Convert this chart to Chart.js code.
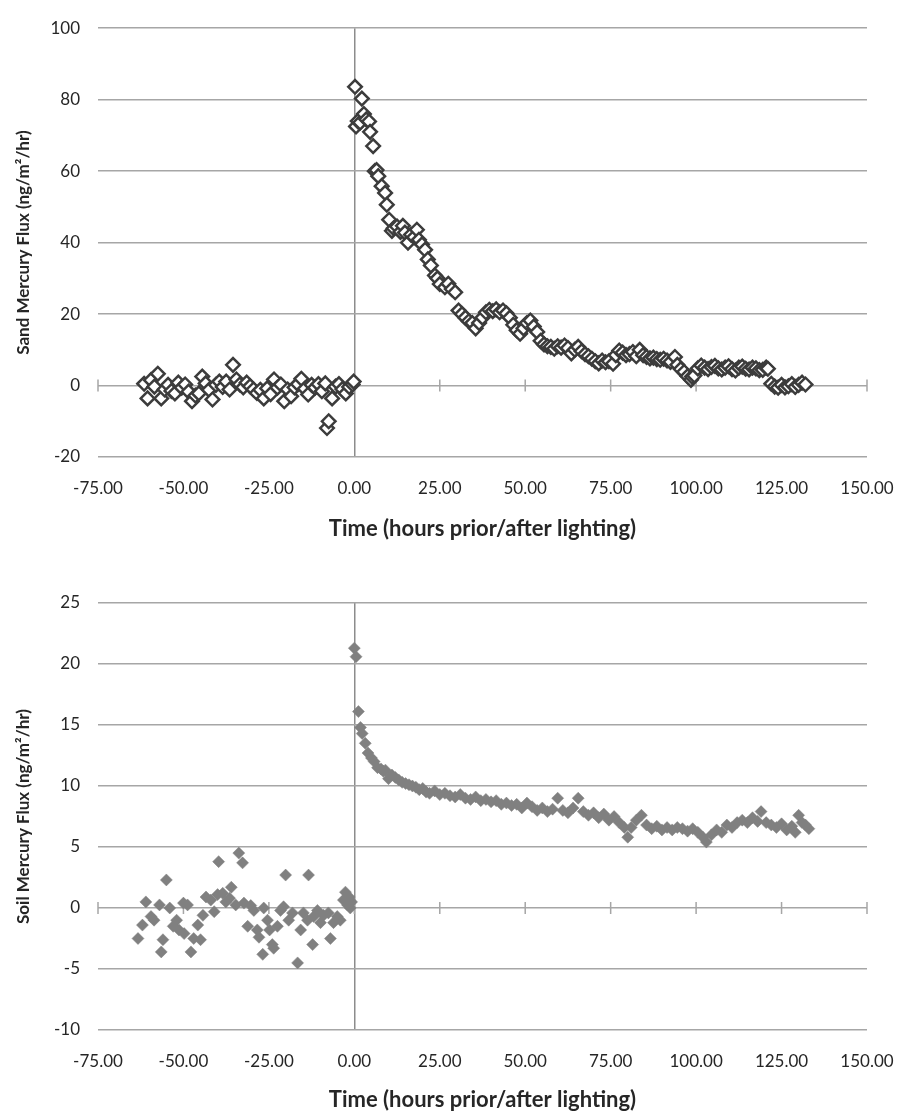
<!DOCTYPE html>
<html>
<head>
<meta charset="utf-8">
<script src="https://cdn.jsdelivr.net/npm/chart.js@4.4.1/dist/chart.umd.min.js"></script>
<style>
  body { margin: 0; background: #fff; }
  canvas { display: block; }
</style>
</head>
<body>
<canvas id="sandChart" width="900" height="545"></canvas>
<canvas id="soilChart" width="900" height="573"></canvas>
<script>
// sand: hours before lighting [time, flux]
const sandBefore = [
  [-61.5, 0.5], [-60.5, -3.6], [-59.5, 1.5], [-58.5, -0.3], [-57.5, 3.3], [-56.5, -3.6],
  [-55.5, -1.1], [-54.5, 0.2], [-53.5, -1.5], [-52.5, -2.2], [-51.5, 0.8], [-50.5, -0.6],
  [-49.5, 0.3], [-48.5, -1.7], [-47.5, -4.4], [-46.5, -2.8], [-45.5, -2.2], [-44.5, 2.5],
  [-43.5, 0.6], [-42.5, -1.2], [-41.5, -3.9], [-40.5, 0.2], [-39.5, 1.1], [-38.5, -0.4],
  [-37.5, 1.1], [-36.5, -1.1], [-35.5, 5.8], [-34.5, 1.7], [-33.5, 0.3], [-32.5, -0.5],
  [-31.5, 0.8], [-30.5, -0.2], [-29.5, -1.1], [-28.5, -2.1], [-27.5, -1.2], [-26.5, -3.6],
  [-25.5, -0.8], [-24.5, -2.4], [-23.5, 1.7], [-22.5, -0.6], [-21.5, 0.3], [-20.5, -4.4],
  [-19.5, -1.1], [-18.5, -3.0], [-17.5, -0.5], [-16.5, 0.4], [-15.5, 1.9], [-14.5, -0.9],
  [-13.5, -2.5], [-12.5, 0.2], [-11.5, -0.6], [-10.5, 0.4], [-9.5, -1.6], [-8.5, 0.6],
  [-8.0, -11.9], [-7.5, -10.0], [-6.5, -3.6], [-5.5, -0.3], [-4.5, 0.4], [-3.5, -1.0],
  [-2.5, -2.2], [-1.5, -0.4], [-0.5, 0.3], [-0.2, 1.1]
];

// sand: hours after lighting
const sandAfter = [
  [0.2, 83.6], [0.5, 72.5], [1.0, 74.0], [1.7, 73.6], [2.2, 80.3], [2.8, 76.0], [3.5, 74.5],
  [4.3, 73.9], [4.6, 71.0], [5.5, 67.0], [6.0, 60.0], [6.5, 60.3], [7.0, 58.6], [8.0, 55.8],
  [9.0, 53.9], [9.5, 50.6], [10.2, 46.4], [11.0, 43.3], [11.5, 44.0], [12.5, 44.5], [13.5, 43.0],
  [14.2, 44.7], [14.8, 42.8], [15.7, 40.0], [16.6, 42.2], [17.5, 41.5], [18.3, 43.6], [18.9, 40.8],
  [19.8, 39.5], [20.7, 38.0], [21.5, 35.3], [22.4, 33.6], [23.6, 30.8], [24.3, 30.0], [25.0, 28.4],
  [26.5, 27.5], [27.5, 28.5], [28.5, 27.0], [29.5, 26.1], [30.5, 21.0], [31.5, 20.0], [32.5, 19.0],
  [33.5, 18.0], [34.5, 17.5], [35.5, 16.0], [36.5, 17.5], [37.5, 19.0], [38.5, 20.5], [39.5, 21.2],
  [40.5, 20.8], [41.5, 21.3], [42.5, 20.5], [43.5, 21.0], [44.5, 20.2], [45.5, 19.0], [46.5, 17.0],
  [47.5, 15.5], [48.5, 14.5], [49.5, 16.0], [50.5, 17.5], [51.5, 18.2], [52.5, 16.5], [53.5, 15.0],
  [54.5, 12.5], [55.5, 11.5], [56.5, 11.0], [57.5, 10.8], [58.5, 10.3], [59.5, 11.0], [60.5, 10.6],
  [61.5, 11.2], [62.5, 10.5], [63.5, 9.0], [64.5, 10.0], [65.5, 10.8], [66.5, 9.6], [67.5, 8.8],
  [68.5, 8.2], [69.5, 7.5], [70.5, 6.8], [71.5, 6.2], [72.5, 7.0], [73.5, 6.5], [74.5, 6.8],
  [75.7, 6.1], [76.5, 8.5], [77.5, 9.8], [78.5, 9.2], [79.5, 8.5], [80.5, 8.8], [81.5, 9.4],
  [82.5, 8.2], [83.5, 10.0], [84.5, 8.5], [85.5, 8.0], [86.5, 7.6], [87.5, 7.8], [88.5, 7.4],
  [89.5, 7.2], [90.5, 7.5], [91.5, 7.0], [92.5, 6.6], [93.8, 8.0], [94.5, 5.8], [95.5, 4.6],
  [96.5, 3.8], [97.5, 2.6], [98.5, 1.6], [98.8, 2.5], [99.5, 2.8], [100.5, 4.8], [101.5, 5.6],
  [102.5, 5.0], [103.5, 4.6], [104.5, 5.2], [105.5, 5.5], [106.5, 4.8], [107.5, 4.5], [108.5, 5.0],
  [109.5, 5.4], [110.5, 4.6], [111.5, 4.2], [112.5, 5.0], [113.5, 5.3], [114.5, 4.7], [115.5, 4.5],
  [116.5, 5.0], [117.5, 4.8], [118.5, 4.3], [119.5, 4.4], [120.5, 5.0], [121.0, 4.7], [122.0, 0.5],
  [123.0, -0.3], [124.0, -0.6], [125.0, 0.2], [126.0, -0.5], [127.0, -0.2], [128.0, 0.4],
  [129.0, -0.4], [130.0, 0.2], [131.0, 0.8], [132.0, 0.3]
];

// soil: hours before lighting
const soilBefore = [
  [-63.3, -2.5], [-62.0, -1.4], [-61.0, 0.5], [-59.5, -0.7], [-58.6, -1.0], [-57.0, 0.25],
  [-56.5, -3.6], [-56.0, -2.6], [-55.0, 2.3], [-54.0, 0.0], [-53.0, -1.5], [-52.0, -1.0],
  [-51.3, -1.8], [-50.0, 0.4], [-49.8, -2.1], [-48.8, 0.25], [-47.8, -3.6], [-47.0, -2.5],
  [-45.8, -1.4], [-45.0, -2.6], [-44.3, -0.6], [-43.4, 0.9], [-42.0, 0.65], [-41.0, -0.3],
  [-40.0, 1.1], [-39.7, 3.8], [-38.5, 1.2], [-37.6, 0.5], [-36.5, 0.8], [-36.0, 1.7],
  [-34.7, 0.25], [-33.8, 4.5], [-32.7, 3.7], [-32.3, 0.4], [-31.2, -1.5], [-30.3, 0.2],
  [-29.4, -0.2], [-28.4, -1.8], [-27.9, -2.4], [-26.8, -3.8], [-26.5, 0.0], [-25.4, -1.0],
  [-24.8, -1.8], [-24.0, -3.0], [-23.6, -3.3], [-22.5, -1.5], [-21.6, -0.2], [-20.7, 0.1],
  [-20.1, 2.7], [-19.2, -1.0], [-18.1, -0.4], [-16.6, -4.5], [-15.7, -1.8], [-14.9, -0.4],
  [-13.7, -1.0], [-13.4, 2.7], [-12.2, -3.0], [-11.9, -0.7], [-10.8, -0.2], [-9.9, -1.2],
  [-9.0, -0.6], [-7.6, -0.4], [-7.0, -2.5], [-6.1, -1.2], [-5.0, -0.7], [-4.1, -1.0],
  [-3.2, 0.65], [-2.6, 1.3], [-2.0, 0.25], [-1.5, 0.9], [-1.2, 0.0], [-0.8, 0.5]
];

// soil: hours after lighting
const soilAfter = [
  [0.0, 21.3], [0.5, 20.6], [1.2, 16.1], [1.8, 14.8], [2.3, 14.3], [3.2, 13.5], [4.0, 12.7],
  [5.0, 12.3], [5.8, 12.0], [6.8, 11.5], [7.8, 11.4], [8.5, 11.2], [9.1, 11.3], [10.0, 10.6],
  [11.0, 10.9], [12.0, 10.7], [13.0, 10.5], [14.0, 10.3], [15.0, 10.2], [16.0, 10.1], [17.0, 10.0],
  [18.0, 9.9], [19.0, 9.7], [20.0, 9.8], [21.0, 9.5], [22.0, 9.4], [23.5, 9.6], [25.0, 9.3],
  [26.5, 9.4], [28.0, 9.2], [29.5, 9.1], [31.0, 9.3], [32.5, 9.0], [34.0, 8.9], [35.5, 9.1],
  [37.0, 8.8], [38.5, 8.9], [40.0, 8.7], [41.5, 8.8], [43.0, 8.5], [44.5, 8.6], [46.0, 8.4],
  [47.5, 8.5], [49.0, 8.2], [50.5, 8.6], [52.0, 8.3], [53.5, 8.0], [55.0, 8.2], [56.5, 7.9],
  [58.0, 8.1], [59.5, 9.0], [61.0, 8.0], [62.5, 7.8], [64.0, 8.2], [65.5, 9.0], [67.0, 7.9],
  [68.5, 7.6], [70.0, 7.8], [71.5, 7.4], [73.0, 7.7], [74.5, 7.2], [76.0, 7.5], [77.5, 7.0],
  [79.0, 6.6], [80.0, 5.8], [81.0, 6.6], [82.5, 7.2], [84.0, 7.6], [85.5, 6.8], [87.0, 6.5],
  [88.5, 6.7], [90.0, 6.4], [91.5, 6.6], [93.0, 6.4], [94.5, 6.6], [96.0, 6.5], [97.5, 6.3],
  [99.0, 6.5], [100.5, 6.2], [102.0, 5.8], [103.0, 5.4], [104.5, 6.0], [106.0, 6.4], [107.5, 6.2],
  [109.0, 6.8], [110.5, 6.6], [112.0, 7.0], [113.5, 7.2], [115.0, 7.0], [116.5, 7.4], [118.0, 7.1],
  [119.0, 7.9], [120.5, 7.0], [122.0, 6.8], [123.5, 6.6], [125.0, 6.9], [126.5, 6.4], [128.0, 6.7],
  [129.0, 6.2], [130.0, 7.6], [131.0, 7.0], [132.0, 6.8], [133.0, 6.5]
];

const xTicks = { min: -75, max: 150, step: 25 };
const sandTicks = { min: -20, max: 100, step: 20 };
const soilTicks = { min: -10, max: 25, step: 5 };

const xTitle = 'Time (hours prior/after lighting)';
const textColor = '#262626';
const gridColor = '#a6a6a6';

// small crossing tick marks on the y=0 line, like excel's axis
const crossTicks = {
  id: 'crossTicks',
  beforeDatasetsDraw(chart) {
    const { ctx, scales: { x, y } } = chart;
    const y0 = y.getPixelForValue(0);
    ctx.save();
    ctx.strokeStyle = gridColor;
    ctx.lineWidth = 1.5;
    ctx.beginPath();
    x.ticks.forEach(t => {
      const px = x.getPixelForValue(t.value);
      ctx.moveTo(px, y0 - 6);
      ctx.lineTo(px, y0 + 6);
    });
    ctx.stroke();
    ctx.restore();
  }
};

function makeChart(id, points, yRange, yTitle, style, padTop, titleBottom) {
  const ctx = document.getElementById(id).getContext('2d');
  return new Chart(ctx, {
    type: 'scatter',
    data: {
      datasets: [{
        data: points.map(([x, y]) => ({ x, y })),
        pointStyle: 'rectRot',
        pointRadius: style.radius,
        backgroundColor: style.fill,
        borderColor: style.border,
        borderWidth: style.borderWidth
      }]
    },
    options: {
      responsive: false,
      devicePixelRatio: 1,
      animation: false,
      layout: { padding: { left: 0, top: padTop, right: 33, bottom: 0 } },
      plugins: { legend: { display: false }, tooltip: { enabled: false } },
      scales: {
        x: {
          type: 'linear',
          min: xTicks.min,
          max: xTicks.max,
          afterFit: s => { s.height = 88; },
          ticks: {
            stepSize: xTicks.step,
            padding: 2,
            color: textColor,
            font: { family: 'Lato', size: 17 },
            callback: v => v.toFixed(2)
          },
          grid: {
            drawTicks: true,
            tickLength: 19,
            tickColor: 'transparent',
            lineWidth: 1.5,
            color: c => (c.tick && c.tick.value === 0 ? '#8c8c8c' : 'transparent')
          },
          border: { display: false },
          title: {
            display: true,
            text: xTitle,
            color: textColor,
            font: { family: 'Lato', size: 22, weight: 'bold' },
            padding: { top: 0, bottom: titleBottom }
          }
        },
        y: {
          min: yRange.min,
          max: yRange.max,
          afterFit: s => { s.width = 98; },
          ticks: {
            stepSize: yRange.step,
            padding: 18,
            color: textColor,
            font: { family: 'Lato', size: 17 }
          },
          grid: { drawTicks: false, color: gridColor, lineWidth: 1.5 },
          border: { display: false },
          title: {
            display: true,
            text: yTitle,
            color: textColor,
            font: { family: 'Lato', size: 17, weight: 'bold' },
            padding: { top: 13, bottom: 0 }
          }
        }
      }
    },
    plugins: [crossTicks]
  });
}

makeChart('sandChart', sandBefore.concat(sandAfter), sandTicks,
  'Sand Mercury Flux (ng/m\u00b2/hr)',
  { radius: 6.8, fill: '#ffffff', border: '#3c3c3c', borderWidth: 2.5 }, 23, 3);

makeChart('soilChart', soilBefore.concat(soilAfter), soilTicks,
  'Soil Mercury Flux (ng/m\u00b2/hr)',
  { radius: 6, fill: '#808080', border: '#808080', borderWidth: 0.5 }, 58, 5);
</script>
</body>
</html>
